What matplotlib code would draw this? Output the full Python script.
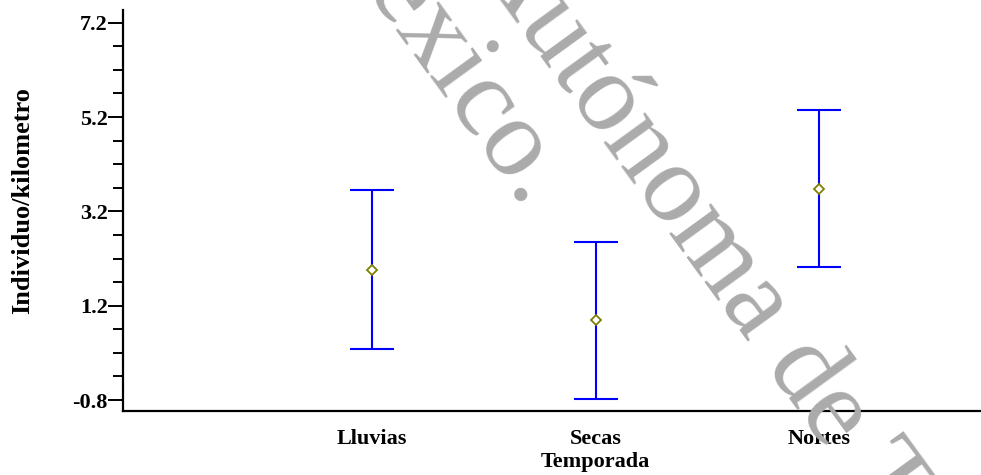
import matplotlib
matplotlib.use("Agg")
import matplotlib.pyplot as plt
import numpy as np
from matplotlib.ticker import FixedLocator

# data (mean and interval limits)
temporadas = ["Lluvias", "Secas", "Nortes"]
medias = [1.96, 0.89, 3.68]
lim_inf = [0.28, -0.78, 2.02]
lim_sup = [3.65, 2.55, 5.36]
ticks_y = [-0.8, 1.2, 3.2, 5.2, 7.2]

plt.rcParams["font.family"] = ["Liberation Serif", "DejaVu Serif"]

W, H = 981, 475
fig = plt.figure(figsize=(W / 100, H / 100), dpi=100)
ax = fig.add_axes([123 / W, 64 / H, 1 - 123 / W, 401 / H])

pos = list(range(len(temporadas)))
err = [[m - lo for m, lo in zip(medias, lim_inf)],
       [hi - m for m, hi in zip(medias, lim_sup)]]
ax.errorbar(pos, medias, yerr=err, fmt="none", ecolor="#0000ff",
            elinewidth=1.5, capsize=16, capthick=1.5)
ax.plot(pos, medias, linestyle="none", marker="D", ms=5.5,
        mfc="white", mec="#808000", mew=1.3)

ax.set_xlim(-1.113, 2.722)
ax.set_ylim(-1.033, 7.47)

ax.set_yticks(ticks_y)
ax.set_yticklabels([f"{t:.1f}" for t in ticks_y])
ax.yaxis.set_minor_locator(FixedLocator(np.arange(-0.8, 7.3, 0.5)))
ax.tick_params(axis="y", which="major", length=11, width=1.4, pad=0,
               labelsize=16)
ax.tick_params(axis="y", which="minor", length=7, width=1.4)
for lab in ax.get_yticklabels():
    lab.set_fontweight("bold")

ax.set_xticks(pos)
ax.set_xticklabels(temporadas, fontweight="bold", fontsize=16)
ax.tick_params(axis="x", length=0, pad=13)

for s in ["top", "right"]:
    ax.spines[s].set_visible(False)
for s in ["left", "bottom"]:
    ax.spines[s].set_linewidth(1.6)

ax.set_xlabel("Temporada", fontsize=16, fontweight="bold", va="top")
ax.xaxis.set_label_coords(0.551, -0.102)
fig.text(23 / W, 1 - 201 / H, "Individuo/kilometro", rotation=90,
         ha="center", va="center", fontsize=19, fontweight="bold")

# watermark
wm = dict(fontsize=81, color="#ababab", rotation=-54, rotation_mode="anchor",
          ha="left", va="baseline", transform=None)
fig.text(469, H + 42, "Autónoma de Tabasco", **wm)
fig.text(305, H + 89, "México.", **wm)

fig.savefig("out.png", dpi=100)
